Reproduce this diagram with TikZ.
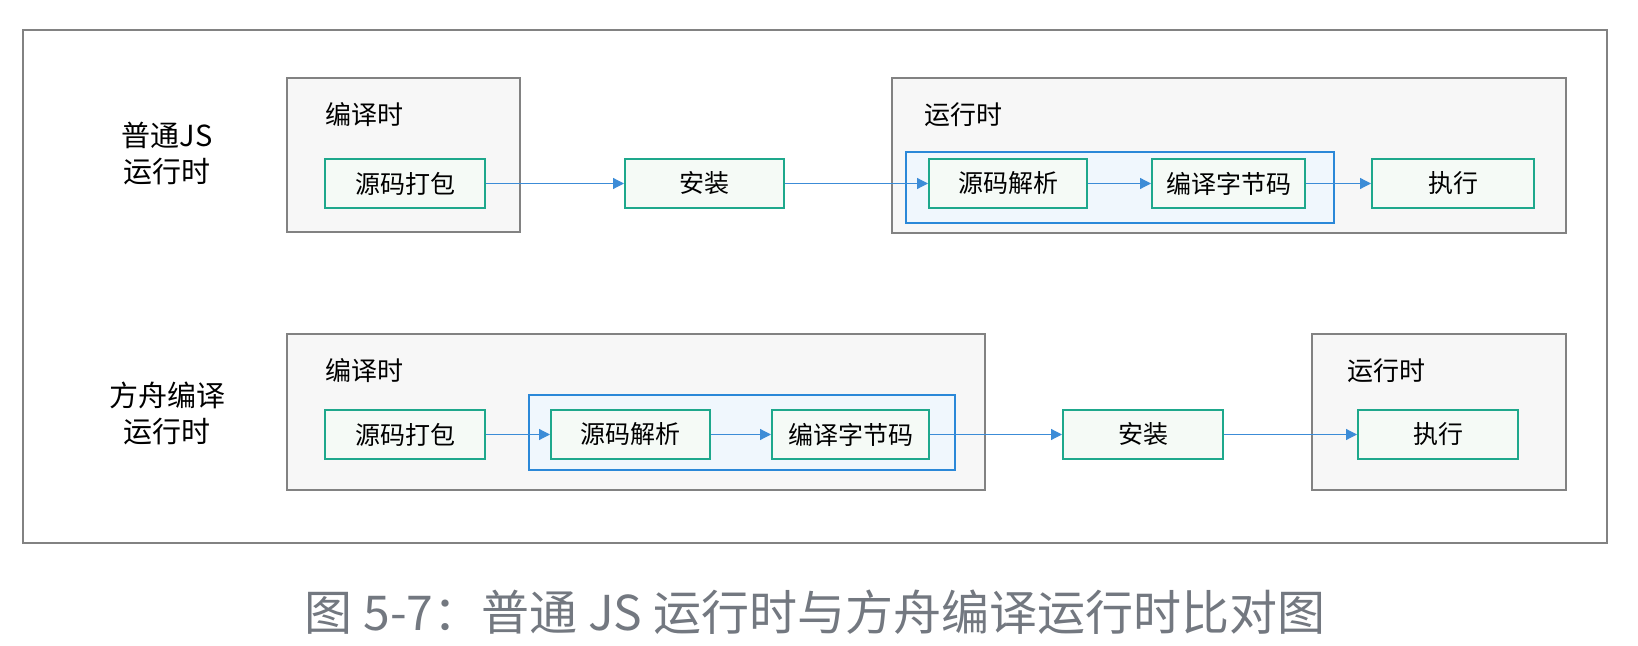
\documentclass[tikz,border=0pt]{standalone}
\usepackage{fontspec}
\setmainfont{Noto Sans CJK SC}
\usetikzlibrary{arrows.meta, positioning}

\definecolor{frameGray}{RGB}{130,130,130}
\definecolor{stageFill}{RGB}{247,247,247}
\definecolor{taskGreen}{RGB}{30,168,140}
\definecolor{taskFill}{RGB}{245,250,246}
\definecolor{groupBlue}{RGB}{43,136,216}
\definecolor{groupFill}{RGB}{240,247,253}
\definecolor{flowBlue}{RGB}{60,140,215}
\definecolor{captionGray}{RGB}{115,120,128}

\tikzset{
  stagebox/.style={draw=frameGray, line width=1pt, fill=stageFill, inner sep=0pt},
  groupbox/.style={draw=groupBlue, line width=1pt, fill=groupFill, inner sep=0pt},
  taskbox/.style={draw=taskGreen, line width=1pt, fill=taskFill, inner sep=0pt,
    minimum height=24.5pt, font=\fontsize{12.5}{15}\selectfont},
  stagelabel/.style={anchor=west, inner sep=0pt, font=\fontsize{13}{15}\selectfont},
  rowlabel/.style={align=center, inner sep=0pt, font=\fontsize{14.5}{18}\selectfont},
  flow/.style={draw=flowBlue, line width=0.6pt, -{Triangle[length=5.5pt, width=5.5pt]}}
}

\begin{document}
\begin{tikzpicture}[x=0.5pt, y=-0.5pt]
        \useasboundingbox (0,0) rectangle (1638,646);
        % Outer frame
        \draw [frameGray, line width=1pt] (23,30) rectangle (1607,543);

        % Row labels
        \node[rowlabel] (rowJS) at (167,154) {普通JS\\运行时};
        \node[rowlabel] (rowArk) at (167,413) {方舟编译\\运行时};

        % Ordinary JS runtime
        \node[stagebox, minimum width=116.5pt, minimum height=77pt] (compileA) at (403.5,155) {};
        \node[stagelabel] (compileAlabel) at (325,115) {编译时};
        \node[stagebox, minimum width=337pt, minimum height=77.5pt] (runA) at (1229,155.5) {};
        \node[stagelabel] (runAlabel) at (924,115) {运行时};
        \node[groupbox, minimum width=214pt, minimum height=35.5pt] (groupA) at (1120,187.5) {};

        \node[taskbox, minimum width=80pt] (packA) at (405,183.5) {源码打包};
        \node[taskbox, minimum width=79.5pt] (installA) at (704.5,183.5) {安装};
        \node[taskbox, minimum width=79pt] (parseA) at (1008,183.5) {源码解析};
        \node[taskbox, minimum width=76.5pt] (byteA) at (1228.5,183.5) {编译字节码};
        \node[taskbox, minimum width=81pt] (execA) at (1453,183.5) {执行};

        \draw[flow] (packA) -- (installA);
        \draw[flow] (installA) -- (parseA);
        \draw[flow] (parseA) -- (byteA);
        \draw[flow] (byteA) -- (execA);

        % Ark compiled runtime
        \node[stagebox, minimum width=349pt, minimum height=78pt] (compileB) at (636,412) {};
        \node[stagelabel] (compileBlabel) at (325,371) {编译时};
        \node[groupbox, minimum width=213pt, minimum height=37.5pt] (groupB) at (742,432.5) {};
        \node[stagebox, minimum width=127pt, minimum height=78pt] (runB) at (1439,412) {};
        \node[stagelabel] (runBlabel) at (1347,371) {运行时};

        \node[taskbox, minimum width=80pt] (packB) at (405,434.5) {源码打包};
        \node[taskbox, minimum width=79.5pt] (parseB) at (630.5,434.5) {源码解析};
        \node[taskbox, minimum width=78.5pt] (byteB) at (850.5,434.5) {编译字节码};
        \node[taskbox, minimum width=80pt] (installB) at (1143,434.5) {安装};
        \node[taskbox, minimum width=80pt] (execB) at (1438,434.5) {执行};

        \draw[flow] (packB) -- (parseB);
        \draw[flow] (parseB) -- (byteB);
        \draw[flow] (byteB) -- (installB);
        \draw[flow] (installB) -- (execB);

        % Caption
        \node[text=captionGray, font=\fontsize{24}{28}\selectfont] (caption) at (815,612) {图 5-7：普通 JS 运行时与方舟编译运行时比对图};
    \end{tikzpicture}
\end{document}
